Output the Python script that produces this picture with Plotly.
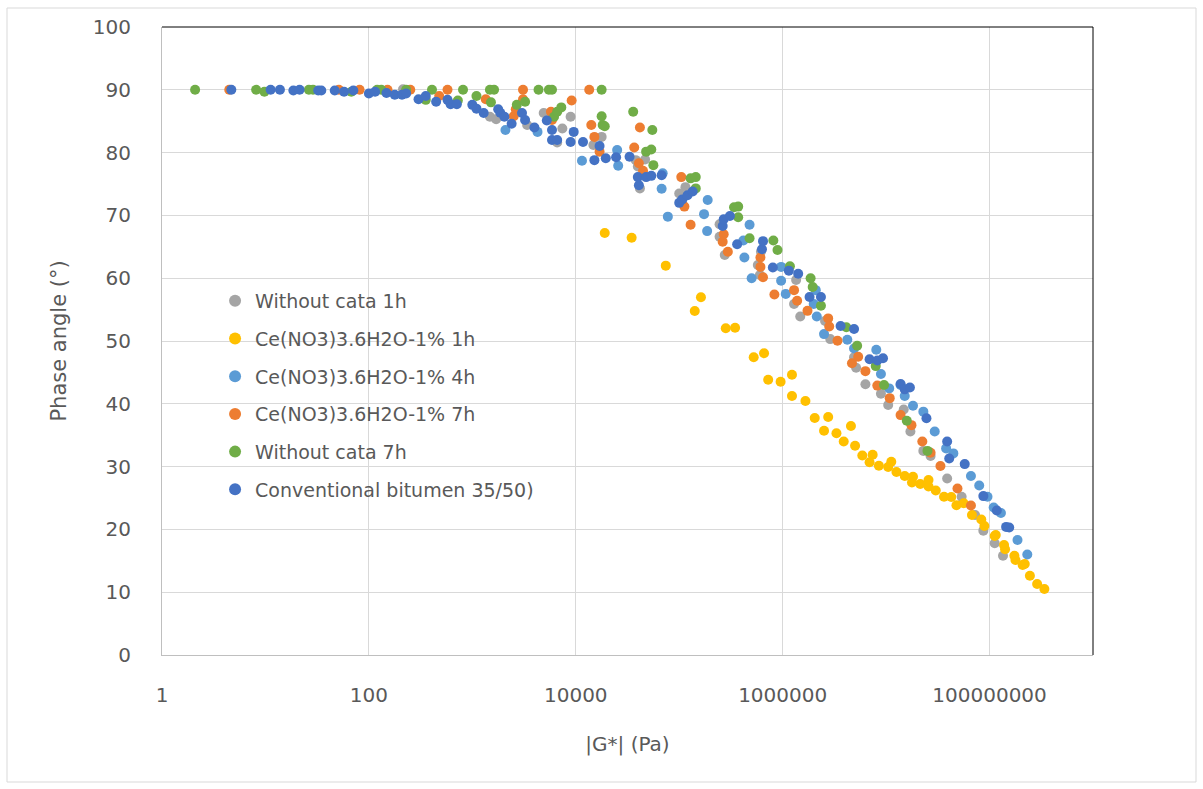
import numpy as np
import plotly.graph_objects as go

# Values: log10(|G*| in Pa) and phase angle (deg)
names = ["Without cata 1h", "Ce(NO3)3.6H2O-1% 1h", "Ce(NO3)3.6H2O-1% 4h",
         "Ce(NO3)3.6H2O-1% 7h", "Without cata 7h", "Conventional bitumen 35/50)"]
colors = ["#A5A5A5", "#FFC000", "#5B9BD5", "#ED7D31", "#70AD47", "#4472C4"]

lg_wo1h = [2.33, 3.17, 3.23, 3.53, 3.69, 3.82, 3.87, 3.95, 4.17, 4.25, 4.58, 4.60, 4.62, 4.67, 5.00,
           5.06, 5.39, 5.39, 5.44, 5.76, 5.78, 5.79, 6.11, 6.13, 6.17, 6.41, 6.46, 6.69, 6.71, 6.80,
           6.95, 7.02, 7.17, 7.235, 7.36, 7.43, 7.59, 7.73, 7.86, 7.94, 8.05, 8.13]
ph_wo1h = [90.1, 85.7, 85.3, 84.4, 86.3, 81.6, 83.85, 85.7, 81.2, 82.5, 78.8, 77.8, 74.3, 78.9, 73.5,
           74.5, 68.6, 66.6, 63.7, 62.1, 60.5, 64.2, 55.9, 59.7, 53.9, 53.2, 50.3, 47.4, 45.75, 43.1,
           41.6, 39.8, 39.1, 35.6, 32.5, 31.7, 28.1, 25.2, 22.3, 19.8, 17.8, 15.8]

lg_ce1h = [4.28, 4.54, 4.87, 5.21, 5.15, 5.45, 5.54, 5.72, 5.82, 5.86, 5.98, 6.09, 6.09, 6.22, 6.31,
           6.44, 6.40, 6.52, 6.66, 6.59, 6.70, 6.77, 6.87, 6.84, 6.93, 7.02, 7.05, 7.10, 7.18, 7.26,
           7.25, 7.33, 7.41, 7.41, 7.48, 7.56, 7.63, 7.68, 7.75, 7.83, 7.92, 7.95, 8.05, 8.06, 8.14,
           8.15, 8.24, 8.25, 8.32, 8.34, 8.39, 8.46, 8.53]
ph_ce1h = [67.2, 66.45, 62.0, 56.96, 54.78, 52.02, 52.12, 47.4, 48.04, 43.84, 43.52, 44.63, 41.24, 40.45, 37.74,
           37.9, 35.72, 35.3, 36.46, 34.0, 33.33, 31.77, 31.9, 30.68, 30.14, 29.94, 30.78, 29.14, 28.5, 28.39,
           27.47, 27.23, 27.87, 26.83, 26.19, 25.21, 25.16, 23.84, 24.16, 22.29, 21.58, 20.54, 18.95, 19.11, 17.52,
           16.83, 15.81, 15.13, 14.33, 14.49, 12.63, 11.31, 10.51]

lg_ce4h = [3.32, 3.63, 4.06, 4.40, 4.41, 4.83, 4.84, 4.89, 5.24, 5.27, 5.275, 5.62, 5.63, 5.68, 5.70,
           5.985, 5.985, 6.03, 6.30, 6.32, 6.33, 6.40, 6.625, 6.69, 6.905, 6.95, 7.03, 7.14, 7.18, 7.26,
           7.36, 7.47, 7.58, 7.65, 7.82, 7.90, 7.98, 8.04, 8.11, 8.27, 8.365]
ph_ce4h = [83.6, 83.3, 78.7, 80.4, 77.9, 74.25, 76.7, 69.8, 70.2, 67.5, 72.45, 66.0, 63.3, 68.5, 60.0,
           61.8, 59.6, 57.5, 55.9, 58.1, 53.9, 51.1, 50.2, 48.8, 48.6, 44.75, 42.45, 43.0, 41.25, 39.7,
           38.75, 35.6, 32.9, 32.1, 28.5, 27.0, 25.2, 23.5, 22.6, 18.3, 16.0]

lg_ce7h = [0.65, 1.71, 1.91, 2.18, 2.40, 2.68, 2.76, 3.13, 3.40, 3.42, 3.49, 3.49, 3.76, 3.77, 3.96,
           4.13, 4.15, 4.18, 4.23, 4.565, 4.61, 4.62, 4.65, 5.02, 5.05, 5.11, 5.42, 5.43, 5.47, 5.785,
           5.785, 5.81, 5.92, 6.11, 6.14, 6.24, 6.44, 6.45, 6.53, 6.67, 6.73, 6.80, 6.915, 7.035, 7.14,
           7.245, 7.35, 7.43, 7.525, 7.69, 7.82]
ph_ce7h = [90.0, 90.0, 90.0, 90.0, 90.0, 89.0, 90.0, 88.5, 85.8, 86.9, 90.0, 88.5, 86.5, 85.2, 88.3,
           90.0, 84.4, 82.5, 80.15, 80.8, 78.3, 84.0, 77.1, 76.1, 71.4, 68.5, 65.8, 67.0, 64.2, 63.3,
           61.8, 60.15, 57.4, 58.1, 56.4, 54.8, 53.6, 52.3, 50.05, 46.45, 47.5, 45.2, 42.9, 40.9, 38.2,
           36.6, 34.0, 32.2, 30.1, 26.5, 23.8]

lg_wo7h = [0.32, 0.91, 0.99, 1.42, 1.46, 1.83, 2.08, 2.12, 2.36, 2.55, 2.61, 2.86, 2.91, 3.04, 3.17,
           3.18, 3.21, 3.43, 3.51, 3.64, 3.74, 3.77, 3.79, 3.82, 3.86, 4.25, 4.25, 4.26, 4.28, 4.555,
           4.68, 4.73, 4.74, 4.75, 5.11, 5.16, 5.16, 5.53, 5.57, 5.57, 5.68, 5.91, 5.95, 6.07, 6.27,
           6.29, 6.37, 6.615, 6.72, 6.90, 6.98, 7.20, 7.40]
ph_wo7h = [90.0, 90.0, 89.7, 90.0, 90.0, 89.7, 90.0, 90.0, 90.0, 88.4, 90.0, 88.3, 90.0, 89.0, 90.0,
           88.0, 90.0, 87.6, 88.1, 90.0, 90.0, 90.0, 85.7, 86.5, 87.2, 90.0, 85.8, 84.4, 84.2, 86.5,
           80.15, 80.5, 83.6, 78.0, 75.9, 76.1, 74.3, 71.3, 71.4, 69.7, 66.35, 66.0, 64.5, 61.9, 60.0,
           58.6, 55.6, 52.2, 49.25, 46.0, 43.0, 37.3, 32.5]

lg_conv = [0.67, 1.05, 1.14, 1.27, 1.33, 1.51, 1.54, 1.67, 1.76, 1.85, 2.00, 2.06, 2.17, 2.25, 2.32,
           2.36, 2.48, 2.55, 2.65, 2.76, 2.79, 2.85, 3.00, 3.04, 3.11, 3.25, 3.27, 3.31, 3.38, 3.48,
           3.51, 3.60, 3.72, 3.77, 3.77, 3.82, 3.95, 3.98, 4.07, 4.18, 4.23, 4.29, 4.39, 4.52, 4.60,
           4.61, 4.68, 4.73, 4.83, 5.00, 5.03, 5.08, 5.13, 5.42, 5.43, 5.49, 5.56, 5.80, 5.81, 5.905,
           6.06, 6.15, 6.26, 6.37, 6.56, 6.69, 6.84, 6.915, 6.97, 7.14, 7.18, 7.23, 7.39, 7.59, 7.61,
           7.76, 7.94, 8.07, 8.16, 8.19]
ph_conv = [90.0, 90.0, 90.0, 89.9, 90.0, 89.9, 89.9, 89.9, 89.7, 89.9, 89.4, 89.7, 89.5, 89.2, 89.2,
           89.4, 88.5, 89.0, 88.1, 88.4, 87.7, 87.7, 87.6, 87.0, 86.3, 86.9, 86.35, 85.7, 84.6, 86.3,
           85.2, 84.0, 85.1, 83.6, 82.0, 82.0, 81.7, 83.3, 81.7, 78.8, 81.05, 79.1, 79.25, 79.35, 76.1,
           74.8, 76.1, 76.3, 76.4, 72.0, 72.55, 73.2, 73.8, 68.3, 69.4, 69.9, 65.4, 64.6, 65.9, 61.7,
           61.2, 60.7, 57.0, 57.0, 52.4, 51.9, 47.1, 46.9, 47.25, 43.15, 42.3, 42.6, 37.7, 34.0, 31.3,
           30.4, 25.3, 23.0, 20.4, 20.3]

x_tickvals = [1, 100, 10000, 1000000, 100000000]
x_ticktext = ["1", "100", "10000", "1000000", "100000000"]

series = [(lg_wo1h, ph_wo1h), (lg_ce1h, ph_ce1h), (lg_ce4h, ph_ce4h),
          (lg_ce7h, ph_ce7h), (lg_wo7h, ph_wo7h), (lg_conv, ph_conv)]

FONT = "DejaVu Sans"
GREY_TXT = "#595959"

fig = go.Figure()
for i, ((lg, ph), name, col) in enumerate(zip(series, names, colors)):
    fig.add_trace(go.Scatter(
        x=np.power(10.0, np.array(lg)), y=ph, mode="markers", name=name,
        legendgroup=f"g{i}",
        marker=dict(color=col, size=10, line=dict(width=0)),
    ))

L, R, T, B = 162, 110, 27, 134
fig.update_layout(
    width=1203, height=789,
    margin=dict(l=L, r=R, t=T, b=B, pad=0),
    paper_bgcolor="white", plot_bgcolor="white",
    font=dict(family=FONT, color=GREY_TXT, size=19),
    showlegend=True,
    legend=dict(x=0.057, y=0.594, xanchor="left", yanchor="top",
                bgcolor="rgba(0,0,0,0)", borderwidth=0,
                font=dict(family=FONT, size=19, color=GREY_TXT),
                tracegroupgap=10, itemsizing="constant"),
    xaxis=dict(type="log", range=[0, 9], tickvals=x_tickvals, ticktext=x_ticktext,
               showgrid=True, gridcolor="#d9d9d9", gridwidth=1,
               showline=True, linecolor="#bfbfbf", linewidth=1, zeroline=False,
               ticks="", ticklabelstandoff=22,
               tickfont=dict(family=FONT, size=20, color=GREY_TXT),
               title=dict(text="|G*| (Pa)", standoff=30,
                          font=dict(family=FONT, size=20, color=GREY_TXT))),
    yaxis=dict(range=[0, 100], dtick=10, tick0=0,
               showgrid=True, gridcolor="#d9d9d9", gridwidth=1,
               showline=True, linecolor="#bfbfbf", linewidth=1, zeroline=False,
               ticks="", ticklabelstandoff=26,
               tickfont=dict(family=FONT, size=20, color=GREY_TXT),
               title=dict(text="Phase angle (°)", standoff=20,
                          font=dict(family=FONT, size=21, color=GREY_TXT))),
    shapes=[
        dict(type="line", xref="paper", yref="paper", x0=0, x1=1, y0=1, y1=1,
             line=dict(color="black", width=1)),
        dict(type="line", xref="paper", yref="paper", x0=1, x1=1, y0=0, y1=1,
             line=dict(color="black", width=1)),
        dict(type="rect", xref="paper", yref="paper",
             x0=(7 - L) / 931, x1=(1196 - L) / 931,
             y0=(655 - 782) / 628, y1=(655 - 8) / 628,
             line=dict(color="#d9d9d9", width=1), layer="below"),
    ],
)

fig.write_html("out.html")
